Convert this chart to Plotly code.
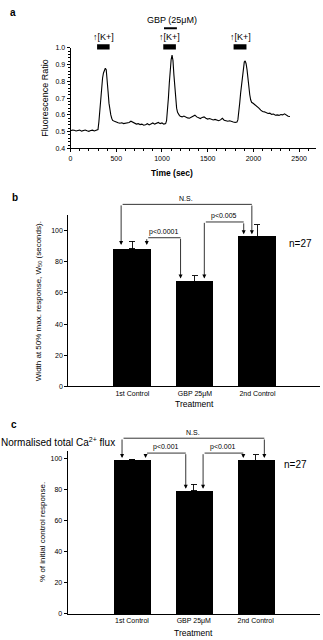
import plotly.graph_objects as go

W, H = 323, 640
FONT = "Liberation Sans"

# ---------------- Panel a data ----------------
time_s = [0, 20, 40, 60, 80, 100, 120, 140, 160, 180, 200, 220, 240, 260, 280, 300,
          310, 320, 330, 340, 350, 360, 370, 380, 390, 400, 410, 420, 430, 440, 450, 460,
          480, 500, 520, 540, 560, 580, 600, 620, 640, 660, 680, 700, 720, 740, 760, 780,
          800, 820, 840, 860, 880, 900, 920, 940, 960, 980, 1000, 1020, 1040,
          1050, 1060, 1070, 1080, 1090, 1100, 1110, 1120, 1130, 1140, 1150, 1160, 1170, 1180, 1190, 1200,
          1220, 1240, 1260, 1280, 1300, 1320, 1340, 1360, 1380, 1400, 1420, 1440, 1460, 1480, 1500,
          1520, 1540, 1560, 1580, 1600, 1620, 1640, 1660, 1680, 1700, 1720, 1740, 1760, 1780, 1800, 1820,
          1830, 1840, 1850, 1860, 1870, 1880, 1890, 1900, 1910, 1920, 1930, 1940, 1950, 1960, 1970, 1980,
          2000, 2020, 2040, 2060, 2080, 2100, 2120, 2140, 2160, 2180, 2200, 2220, 2240, 2260, 2280, 2300,
          2320, 2340, 2360, 2380, 2400]
ratio = [0.505, 0.51, 0.508, 0.504, 0.507, 0.509, 0.503, 0.506, 0.51, 0.505, 0.502, 0.507, 0.509, 0.504, 0.506, 0.512,
         0.56, 0.64, 0.72, 0.78, 0.82, 0.85, 0.872, 0.878, 0.87, 0.82, 0.74, 0.67, 0.625, 0.60, 0.58, 0.567,
         0.562, 0.556, 0.553, 0.55, 0.553, 0.548, 0.55, 0.552, 0.555, 0.562, 0.556, 0.55, 0.545, 0.548, 0.542, 0.545,
         0.538, 0.541, 0.547, 0.54, 0.548, 0.552, 0.545, 0.55, 0.555, 0.548, 0.552, 0.545, 0.548,
         0.565, 0.62, 0.70, 0.79, 0.87, 0.93, 0.956, 0.925, 0.84, 0.75, 0.68, 0.64, 0.615, 0.603, 0.597, 0.592,
         0.588, 0.593, 0.585, 0.582, 0.58, 0.585, 0.59, 0.598, 0.588, 0.583, 0.578, 0.585, 0.588, 0.58, 0.575,
         0.578, 0.572, 0.57, 0.573, 0.568, 0.565, 0.57, 0.58, 0.568, 0.566, 0.562, 0.565, 0.56, 0.557, 0.555, 0.558,
         0.57, 0.61, 0.67, 0.73, 0.78, 0.84, 0.89, 0.915, 0.922, 0.905, 0.87, 0.81, 0.76, 0.72, 0.69, 0.675,
         0.668, 0.66, 0.65, 0.64, 0.628, 0.62, 0.618, 0.612, 0.608, 0.61, 0.603, 0.605, 0.598, 0.6, 0.597, 0.602,
         0.6, 0.606, 0.598, 0.592, 0.59]
kplus_on = [290, 1014, 1783]
kplus_off = [427, 1152, 1924]
gbp_on, gbp_off = 1022, 1163
a_xticks = [0, 500, 1000, 1500, 2000, 2500]
a_yticks = [0.4, 0.5, 0.6, 0.7, 0.8, 0.9, 1.0]

# ---------------- Panels b, c data ----------------
categories = ["1st Control", "GBP 25μM", "2nd Control"]
w50_mean = [88.2, 67.5, 96.5]
w50_sem = [5.1, 3.6, 7.3]
flux_mean = [99.6, 79.6, 99.2]
flux_sem = [0.0, 4.2, 3.5]

# brackets: (x_left, x_right, y_line, tip_left, tip_right, label)
b_brackets = [(-0.18, 1.91, 116.8, 90.8, 97.6, "N.S."),
              (0.23, 0.77, 95.4, 90.8, 69.2, "p<0.0001"),
              (1.15, 1.78, 105.5, 69.2, 97.6, "p<0.005")]
c_brackets = [(-0.16, 2.14, 113.4, 100.6, 100.6, "N.S."),
              (0.22, 0.87, 103.8, 100.6, 80.8, "p<0.001"),
              (1.15, 1.80, 103.8, 80.8, 100.6, "p<0.001")]


def px(x):
    return x / W


def py(y):
    return 1 - y / H


# axis geometry (paper domains and data ranges)
dom_y2 = [py(386.7), py(213.3)]
rng_y2 = [0, 110]
dom_y3 = [py(616.7), py(451.7)]
rng_y3 = [0, 105.3]


def to_paper(v, dom, rng):
    return dom[0] + (v - rng[0]) / (rng[1] - rng[0]) * (dom[1] - dom[0])


fig = go.Figure()

fig.add_trace(go.Scatter(x=time_s, y=ratio, mode="lines",
                         line=dict(color="black", width=1.1),
                         xaxis="x", yaxis="y", showlegend=False))

xpos = list(range(len(categories)))
fig.add_trace(go.Bar(x=xpos, y=w50_mean, width=0.6, marker=dict(color="black", line=dict(width=0)),
                     error_y=dict(type="data", symmetric=False, array=w50_sem, arrayminus=[0] * 3,
                                  color="black", thickness=0.9, width=3),
                     xaxis="x2", yaxis="y2", showlegend=False))
fig.add_trace(go.Bar(x=xpos, y=flux_mean, width=0.6, marker=dict(color="black", line=dict(width=0)),
                     error_y=dict(type="data", symmetric=False, array=flux_sem, arrayminus=[0] * 3,
                                  color="black", thickness=0.9, width=3),
                     xaxis="x3", yaxis="y3", showlegend=False))

tickfont = dict(family=FONT, size=7, color="black")
axis_common = dict(showline=True, linecolor="black", linewidth=1, showgrid=False,
                   zeroline=False, ticks="outside", ticklen=3, tickwidth=1,
                   tickcolor="black", tickfont=tickfont, fixedrange=True)

fig.update_layout(
    width=W, height=H, margin=dict(l=0, r=0, t=0, b=0),
    paper_bgcolor="white", plot_bgcolor="white",
    font=dict(family=FONT, color="black"),
    bargap=0,
    xaxis=dict(domain=[px(69), px(316)], range=[0, 2685], tickvals=a_xticks, anchor="y",
               minor=dict(ticks="outside", ticklen=1.5, dtick=100, tickcolor="black"),
               **axis_common),
    yaxis=dict(domain=[py(146), py(44.3)], range=[0.4, 1.0], tickvals=a_yticks, tickformat=".1f",
               anchor="x",
               minor=dict(ticks="outside", ticklen=1.5, dtick=0.02, tickcolor="black"),
               **axis_common),
    xaxis2=dict(domain=[px(66.7), px(320)], range=[-1.025, 3.0], tickvals=xpos, ticktext=categories,
                anchor="y2", **{**axis_common, "ticks": ""}),
    yaxis2=dict(domain=dom_y2, range=rng_y2, tickvals=[0, 20, 40, 60, 80, 100],
                anchor="x2", **axis_common),
    xaxis3=dict(domain=[px(66), px(320)], range=[-1.04, 3.04], tickvals=xpos, ticktext=categories,
                anchor="y3", **{**axis_common, "ticks": ""}),
    yaxis3=dict(domain=dom_y3, range=rng_y3, tickvals=[0, 20, 40, 60, 80, 100],
                anchor="x3", **axis_common),
)

shapes = []
anns = []

# Panel a stimulus bars
for on, off in zip(kplus_on, kplus_off):
    shapes.append(dict(type="rect", xref="x", yref="paper", x0=on, x1=off,
                       y0=py(46), y1=py(40.7), fillcolor="black", line=dict(width=0)))
    anns.append(dict(xref="x", yref="paper", x=(on + off) / 2, y=py(33.5), text="↑[K+]",
                     showarrow=False, font=dict(family=FONT, size=9), xanchor="center", yanchor="middle",
                     borderpad=0))
shapes.append(dict(type="line", xref="x", yref="paper", x0=gbp_on, x1=gbp_off,
                   y0=py(24.5), y1=py(24.5), line=dict(color="black", width=1.8)))
anns.append(dict(xref="paper", yref="paper", x=px(171), y=py(22.5), text="GBP (25μM)",
                 showarrow=False, font=dict(family=FONT, size=9), yanchor="bottom", borderpad=0))


def text(x, y, s, size, bold=False, angle=0):
    anns.append(dict(xref="paper", yref="paper", x=px(x), y=py(y),
                     text=f"<b>{s}</b>" if bold else s, textangle=angle,
                     showarrow=False, font=dict(family=FONT, size=size),
                     xanchor="center", yanchor="middle"))


text(11, 9, "a", 10, bold=True)
text(13, 196, "b", 10, bold=True)
text(12, 425, "c", 10, bold=True)
text(171, 171, "Time (sec)", 8.5, bold=True)
text(43, 95, "Fluorescence Ratio", 9, angle=-90)
text(36.7, 300, "Width at 50% max. response, W<sub>50</sub> (seconds).", 8, angle=-90)
text(40, 534, "% of initial control response.", 8, angle=-90)
text(56.5, 443, "Normalised total Ca<sup>2+</sup> flux", 10)
text(300, 242, "n=27", 10)
text(295, 466, "n=27", 10)
text(194, 404.5, "Treatment", 8.5)
text(193, 636, "Treatment", 8.5)


def bracket(xa, dom, rng, x1, x2, yl, t1, t2, label):
    yl_p = to_paper(yl, dom, rng)
    # horizontal line
    anns.append(dict(xref=xa, yref="paper", axref=xa, ayref="pixel", x=x2, y=yl_p, ax=x1, ay=0,
                     text="", showarrow=True, arrowhead=0, arrowwidth=0.8, arrowcolor="black",
                     standoff=0, startstandoff=0))
    for xx, tip in ((x1, t1), (x2, t2)):
        tip_p = to_paper(tip, dom, rng)
        anns.append(dict(xref=xa, yref="paper", axref=xa, ayref="pixel", x=xx, y=tip_p, ax=xx,
                         ay=-(yl_p - tip_p) * H,
                         text="", showarrow=True, arrowhead=2, arrowsize=1.0, arrowwidth=0.8,
                         arrowcolor="black", standoff=0, startstandoff=0))
    anns.append(dict(xref=xa, yref="paper", x=(x1 + x2) / 2, y=yl_p, text=label, showarrow=False,
                     yanchor="bottom", yshift=0, borderpad=1, font=dict(family=FONT, size=7)))


for b in b_brackets:
    bracket("x2", dom_y2, rng_y2, *b)
for c in c_brackets:
    bracket("x3", dom_y3, rng_y3, *c)

fig.update_layout(shapes=shapes, annotations=anns)
fig.write_html("out.html")
